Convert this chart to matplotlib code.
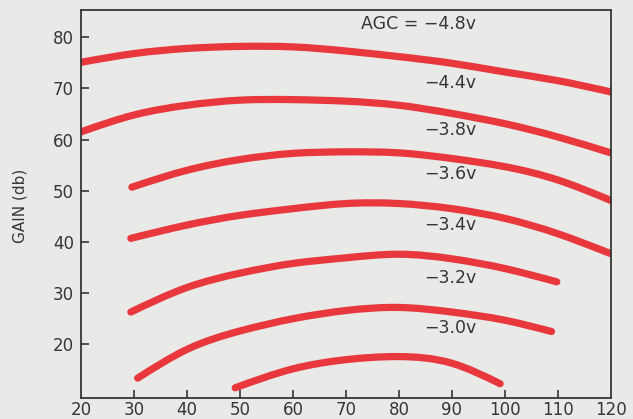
import numpy as np
import matplotlib
matplotlib.use("Agg")
import matplotlib.pyplot as plt
from matplotlib.path import Path
from matplotlib.patches import PathPatch

# frequency (x) vs gain (db) for each AGC voltage
agc_labels = ["AGC = \u22124.8v", "\u22124.4v", "\u22123.8v", "\u22123.6v",
              "\u22123.4v", "\u22123.2v", "\u22123.0v"]

x_48 = [20, 30, 40, 50, 60, 70, 80, 90, 100, 110, 120]
g_48 = [75.1, 76.8, 77.8, 78.2, 78.1, 77.3, 76.2, 74.9, 73.2, 71.5, 69.3]

x_44 = [20, 30, 40, 50, 60, 70, 80, 90, 100, 110, 120]
g_44 = [61.5, 64.8, 66.7, 67.7, 67.8, 67.5, 66.7, 65.1, 63.1, 60.5, 57.4]

x_38 = [29.6, 40, 50, 60, 70, 80, 90, 100, 110, 120]
g_38 = [50.7, 54.0, 56.1, 57.3, 57.6, 57.4, 56.3, 54.7, 52.1, 48.1]

x_36 = [29.4, 40, 50, 60, 70, 80, 90, 100, 110, 120]
g_36 = [40.7, 43.3, 45.2, 46.5, 47.5, 47.5, 46.5, 44.6, 41.6, 37.7]

x_34 = [29.4, 40, 50, 60, 70, 80, 90, 100, 109.8]
g_34 = [26.3, 31.1, 33.9, 35.8, 36.9, 37.6, 36.7, 34.8, 32.2]

x_32 = [30.7, 40, 50, 60, 70, 80, 90, 100, 108.8]
g_32 = [13.4, 19.0, 22.6, 25.0, 26.6, 27.2, 26.3, 24.7, 22.5]

x_30 = [49.1, 60, 70, 80, 90, 99.1]
g_30 = [11.5, 15.2, 17.0, 17.6, 16.3, 12.3]

series = [(x_48, g_48), (x_44, g_44), (x_38, g_38), (x_36, g_36),
          (x_34, g_34), (x_32, g_32), (x_30, g_30)]
label_y = [82.5, 71.0, 61.8, 53.2, 43.3, 33.0, 23.1]

bg = "#e9e9e7"
ink = "#363636"
red = "#e8383d"


def smooth_path(xs, ys):
    # natural cubic spline through the read points, drawn as bezier segments
    x = np.asarray(xs, float)
    y = np.asarray(ys, float)
    n = len(x)
    h = np.diff(x)
    A = np.zeros((n, n))
    r = np.zeros(n)
    A[0, 0] = A[-1, -1] = 1.0
    for i in range(1, n - 1):
        A[i, i - 1] = h[i - 1]
        A[i, i] = 2 * (h[i - 1] + h[i])
        A[i, i + 1] = h[i]
        r[i] = 6 * ((y[i + 1] - y[i]) / h[i] - (y[i] - y[i - 1]) / h[i - 1])
    M = np.linalg.solve(A, r)
    m = np.empty(n)
    m[:-1] = (y[1:] - y[:-1]) / h - h * (2 * M[:-1] + M[1:]) / 6
    m[-1] = (y[-1] - y[-2]) / h[-1] + h[-1] * (M[-2] + 2 * M[-1]) / 6
    verts = [(x[0], y[0])]
    codes = [Path.MOVETO]
    for i in range(n - 1):
        verts += [(x[i] + h[i] / 3, y[i] + m[i] * h[i] / 3),
                  (x[i + 1] - h[i] / 3, y[i + 1] - m[i + 1] * h[i] / 3),
                  (x[i + 1], y[i + 1])]
        codes += [Path.CURVE4] * 3
    return Path(verts, codes)


fig = plt.figure(figsize=(6.33, 4.19), dpi=100, facecolor=bg)
ax = fig.add_axes([0.128, 0.050, 0.837, 0.926], facecolor=bg)

for xs, gs in series:
    patch = PathPatch(smooth_path(xs, gs), fill=False, edgecolor=red,
                      lw=5.2, capstyle="round", joinstyle="round")
    ax.add_patch(patch)

for lab, ly in zip(agc_labels, label_y):
    ax.text(94.6, ly, lab, ha="right", va="center", fontsize=12.5, color=ink)

ax.set_xlim(20, 120)
ax.set_ylim(9.5, 85.3)
ax.set_xticks([30, 40, 50, 60, 70, 80, 90, 100, 110])
ax.set_yticks([20, 30, 40, 50, 60, 70, 80])
ax.tick_params(direction="in", length=6, width=1.2, color=ink,
               labelsize=12, labelcolor=ink)
ax.tick_params(axis="y", pad=5)
ax.tick_params(axis="x", pad=2)

# end labels 20 and 120 sit at the corners without tick marks
for v in (20, 120):
    ax.annotate(str(v), (v, 0), xycoords=ax.get_xaxis_transform(),
                xytext=(0, -2), textcoords="offset points",
                ha="center", va="top", fontsize=12, color=ink)

for s in ax.spines.values():
    s.set_color(ink)
    s.set_linewidth(1.3)

fig.text(20 / 633, 1 - 206 / 419, "GAIN (db)", rotation=90, ha="center",
         va="center", fontsize=11, color=ink)

fig.savefig("out.png", dpi=100, facecolor=bg)
